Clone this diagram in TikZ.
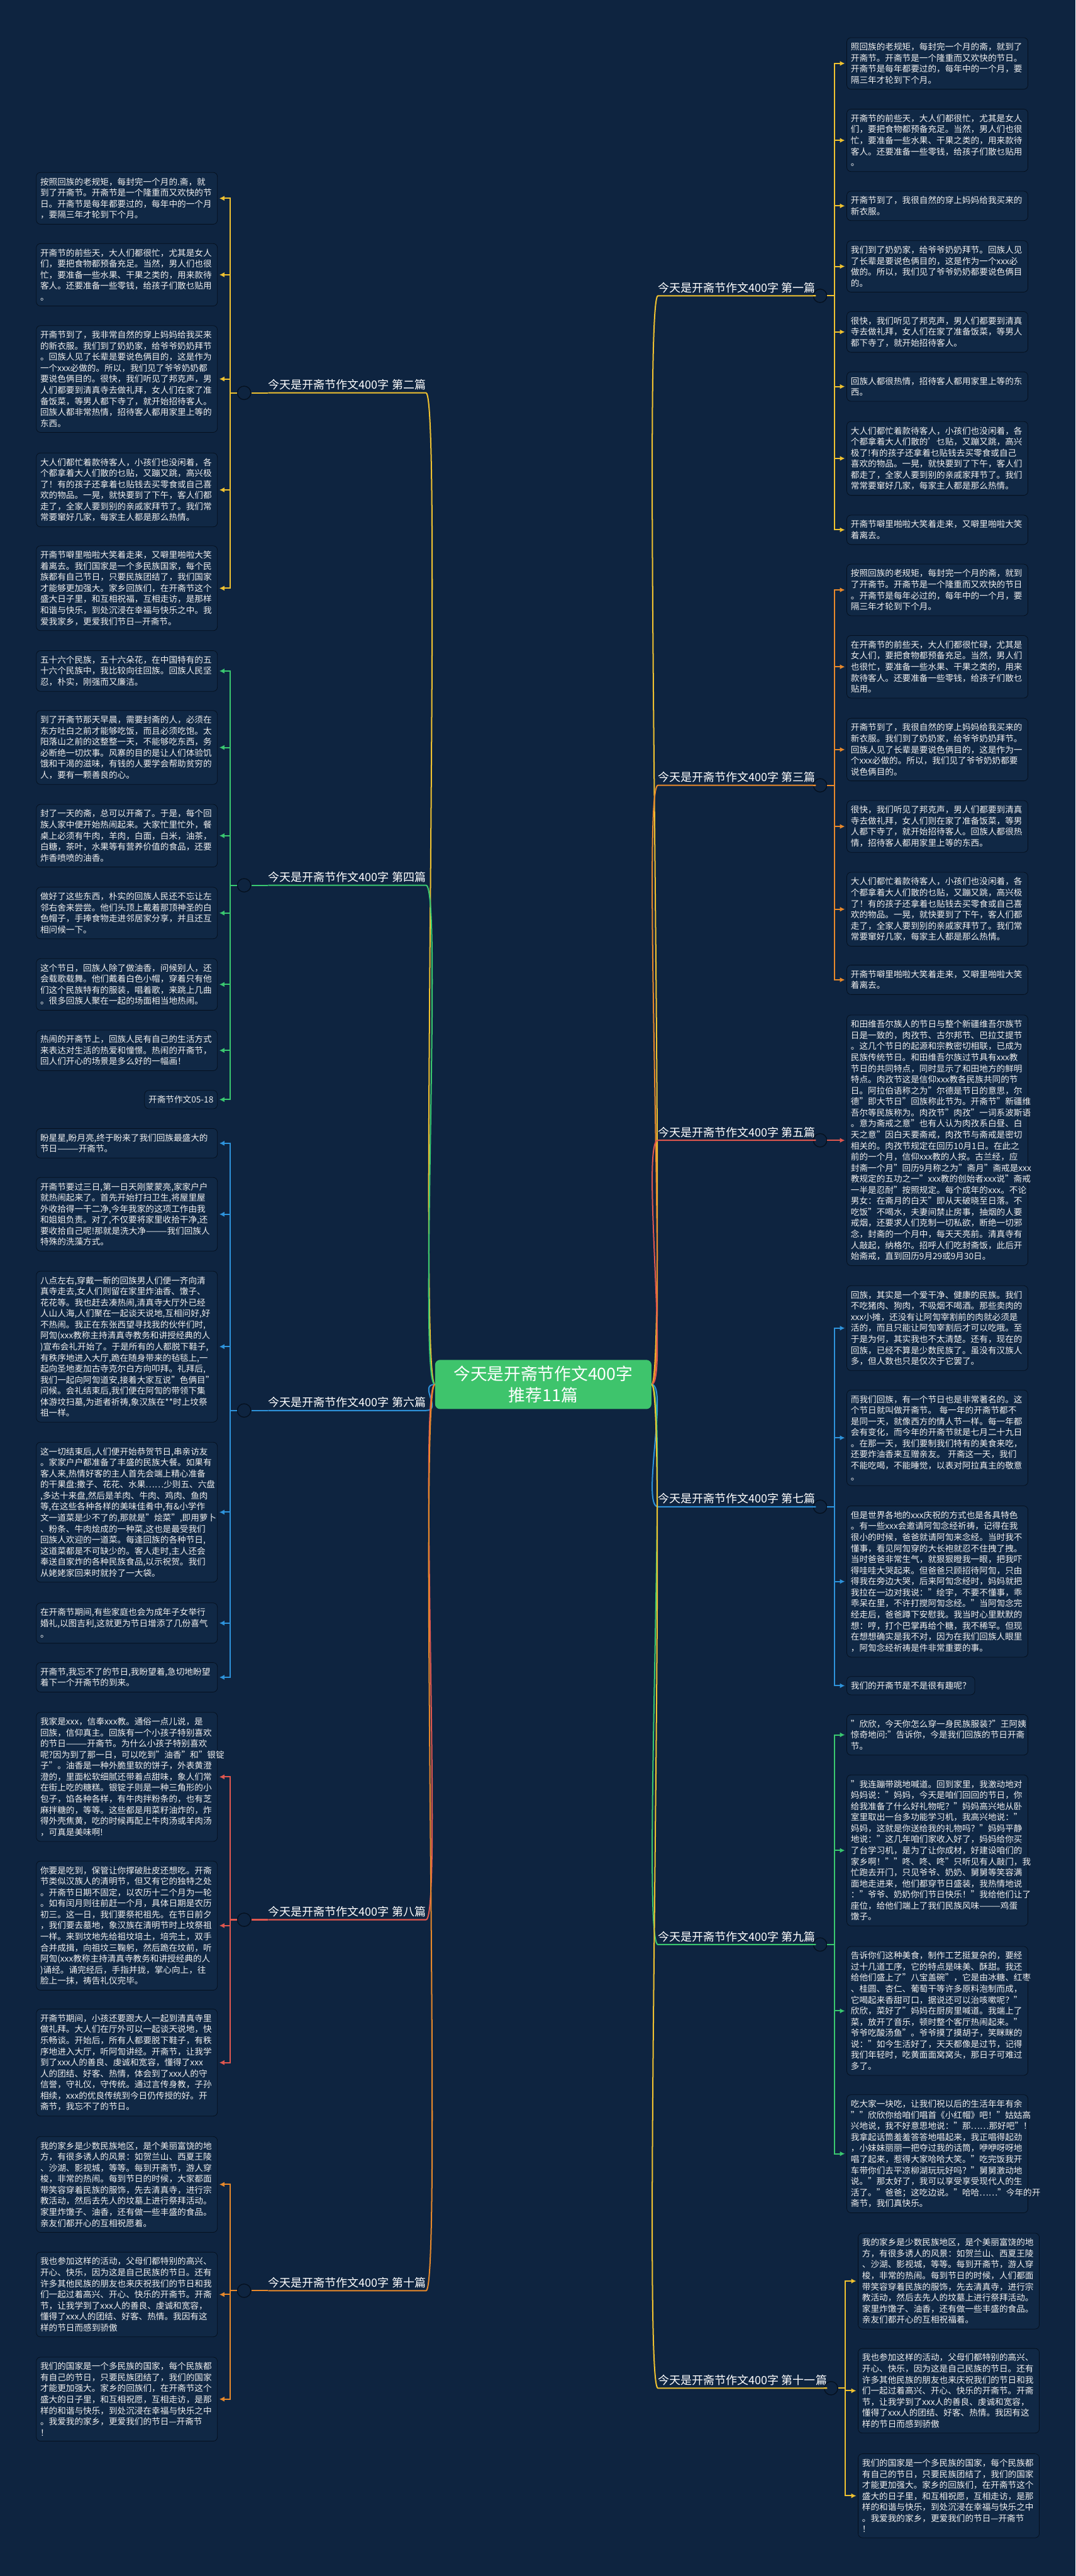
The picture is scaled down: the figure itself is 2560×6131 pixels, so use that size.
\documentclass[tikz,border=0pt]{standalone}
\usepackage{fontspec}
\setmainfont{Noto Sans CJK SC}
\usetikzlibrary{arrows.meta}
\definecolor{bgc}{RGB}{14,36,64}
\definecolor{boxfill}{RGB}{16,40,69}
\definecolor{boxline}{RGB}{5,16,30}
\definecolor{cyel}{RGB}{240,194,48}
\definecolor{cora}{RGB}{232,137,43}
\definecolor{cgre}{RGB}{58,200,112}
\definecolor{cred}{RGB}{224,87,79}
\definecolor{cblu}{RGB}{46,147,219}
\definecolor{ctrgreen}{RGB}{62,196,108}
\begin{document}
\begin{tikzpicture}[x=0.5pt,y=-0.5pt,
  box/.style={draw=boxline, fill=boxfill, line width=0.6pt, rounded corners=5pt,
    text=white!94!black, font=\fontsize{10.2}{13.15}\selectfont, align=left,
    inner xsep=4.75pt, inner ysep=6.2pt},
  leaf/.style={box, text width=206pt},
  lab/.style={text=white, font=\fontsize{13.5}{16}\selectfont, inner xsep=0pt, inner ysep=3pt},
  knob/.style={circle, draw=boxline, fill=bgc, line width=1pt, minimum size=16pt, inner sep=0pt},
  wire/.style={draw=#1, line width=1.5pt},
  arr/.style={draw=#1, line width=1.5pt, -{Latex[length=6pt,width=6pt]}, shorten >=2pt}]

\fill[bgc] (0,0) rectangle (2560,6131);
\useasboundingbox (0,0) rectangle (2560,6131);

\node (ctr) at (1293,3295) [fill=ctrgreen, rounded corners=6pt, text=white,
  font=\fontsize{20}{26}\selectfont, align=center, minimum width=257.5pt,
  minimum height=58.5pt] {今天是开斋节作文400字\\推荐11篇};

% left side: leaves
\node (L2a) at (518,472) [leaf, anchor=east] {按照回族的老规矩，每封完一个月的.斋，就\\到了开斋节。开斋节是一个隆重而又欢快的节\\日。开斋节是每年都要过的，每年中的一个月\\，要隔三年才轮到下个月。};
\node (L2b) at (518,654) [leaf, anchor=east] {开斋节的前些天，大人们都很忙，尤其是女人\\们，要把食物都预备充足。当然，男人们也很\\忙，要准备一些水果、干果之类的，用来款待\\客人。还要准备一些零钱，给孩子们散乜贴用\\。};
\node (L2c) at (518,902) [leaf, anchor=east] {开斋节到了，我非常自然的穿上妈妈给我买来\\的新衣服。我们到了奶奶家，给爷爷奶奶拜节\\。回族人见了长辈是要说色俩目的，这是作为\\一个xxx必做的。所以，我们见了爷爷奶奶都\\要说色俩目的。很快，我们听见了邦克声，男\\人们都要到清真寺去做礼拜，女人们在家了准\\备饭菜，等男人都下寺了，就开始招待客人。\\回族人都非常热情，招待客人都用家里上等的\\东西。};
\node (L2d) at (518,1166) [leaf, anchor=east] {大人们都忙着款待客人，小孩们也没闲着，各\\个都拿着大人们散的乜贴，又蹦又跳，高兴极\\了！有的孩子还拿着乜贴钱去买零食或自己喜\\欢的物品。一晃，就快要到了下午，客人们都\\走了，全家人要到别的亲戚家拜节了。我们常\\常要窜好几家，每家主人都是那么热情。};
\node (L2e) at (518,1400) [leaf, anchor=east] {开斋节噼里啪啦大笑着走来，又噼里啪啦大笑\\着离去。我们国家是一个多民族国家，每个民\\族都有自己节日，只要民族团结了，我们国家\\才能够更加强大。家乡回族们，在开斋节这个\\盛大日子里，和互相祝福，互相走访，是那样\\和谐与快乐，到处沉浸在幸福与快乐之中。我\\爱我家乡，更爱我们节日—开斋节。};

\node (L4a) at (518,1597) [leaf, anchor=east] {五十六个民族，五十六朵花，在中国特有的五\\十六个民族中，我比较向往回族。回族人民坚\\忍，朴实，刚强而又廉洁。};
\node (L4b) at (518,1779) [leaf, anchor=east] {到了开斋节那天早晨，需要封斋的人，必须在\\东方吐白之前才能够吃饭，而且必须吃饱。太\\阳落山之前的这整整一天，不能够吃东西，务\\必断绝一切炊事。风寨的目的是让人们体验饥\\饿和干渴的滋味，有钱的人要学会帮助贫穷的\\人，要有一颗善良的心。};
\node (L4c) at (518,1989) [leaf, anchor=east] {封了一天的斋，总可以开斋了。于是，每个回\\族人家中便开始热闹起来。大家忙里忙外，餐\\桌上必须有牛肉，羊肉，白面，白米，油茶，\\白糖，茶叶，水果等有营养价值的食品，还要\\炸香喷喷的油香。};
\node (L4d) at (518,2173) [leaf, anchor=east] {做好了这些东西，朴实的回族人民还不忘让左\\邻右舍来尝尝。他们头顶上戴着那顶神圣的白\\色帽子，手捧食物走进邻居家分享，并且还互\\相问候一下。};
\node (L4e) at (518,2343) [leaf, anchor=east] {这个节日，回族人除了做油香，问候别人，还\\会载歌载舞。他们戴着白色小帽，穿着只有他\\们这个民族特有的服装，唱着歌，来跳上几曲\\。很多回族人聚在一起的场面相当地热闹。};
\node (L4f) at (518,2500) [leaf, anchor=east] {热闹的开斋节上，回族人民有自己的生活方式\\来表达对生活的热爱和憧憬。热闹的开斋节，\\回人们开心的场景是多么好的一幅画！};
\node (L4g) at (518,2617) [box, anchor=east] {开斋节作文05-18};

\node (L6a) at (518,2721) [leaf, anchor=east] {盼星星,盼月亮,终于盼来了我们回族最盛大的\\节日———开斋节。};
\node (L6b) at (518,2890) [leaf, anchor=east] {开斋节要过三日,第一日天刚蒙蒙亮,家家户户\\就热闹起来了。首先开始打扫卫生,将屋里屋\\外收拾得一干二净,今年我家的这项工作由我\\和姐姐负责。对了,不仅要将家里收拾干净,还\\要收拾自己呢!那就是洗大净———我们回族人\\特殊的洗藻方式。};
\node (L6c) at (518,3205) [leaf, anchor=east] {八点左右,穿戴一新的回族男人们便一齐向清\\真寺走去,女人们则留在家里炸油香、馓子、\\花花等。我也赶去凑热闹,清真寺大厅外已经\\人山人海,人们聚在一起谈天说地,互相问好,好\\不热闹。我正在东张西望寻找我的伙伴们时,\\阿訇(xxx教称主持清真寺教务和讲授经典的人\\)宣布会礼开始了。于是所有的人都脱下鞋子,\\有秩序地进入大厅,跪在随身带来的毡毯上,一\\起向圣地麦加古寺克尔白方向叩拜。礼拜后,\\我们一起向阿訇道安,接着大家互说"色俩目"\\问候。会礼结束后,我们便在阿訇的带领下集\\体游坟扫墓,为逝者祈祷,象汉族在**时上坟祭\\祖一样。};
\node (L6d) at (518,3599) [leaf, anchor=east] {这一切结束后,人们便开始恭贺节日,串亲访友\\。家家户户都准备了丰盛的民族大餐。如果有\\客人来,热情好客的主人首先会端上精心准备\\的干果盘:撒子、花花、水果……少则五、六盘\\,多达十来盘,然后是羊肉、牛肉、鸡肉、鱼肉\\等,在这些各种各样的美味佳肴中,有\&小学作\\文一道菜是少不了的,那就是"烩菜",即用萝卜\\、粉条、牛肉烩成的一种菜,这也是最受我们\\回族人欢迎的一道菜。每逢回族的各种节日,\\这道菜都是不可缺少的。客人走时,主人还会\\奉送自家炸的各种民族食品,以示祝贺。我们\\从姥姥家回来时就拎了一大袋。};
\node (L6e) at (518,3863) [leaf, anchor=east] {在开斋节期间,有些家庭也会为成年子女举行\\婚礼,以图吉利,这就更为节日增添了几份喜气\\。};
\node (L6f) at (518,3992) [leaf, anchor=east] {开斋节,我忘不了的节日,我盼望着,急切地盼望\\着下一个开斋节的到来。};

\node (L8a) at (518,4229) [leaf, anchor=east] {我家是xxx，信奉xxx教。通俗一点儿说，是\\回族，信仰真主。回族有一个小孩子特别喜欢\\的节日———开斋节。为什么小孩子特别喜欢\\呢?因为到了那一日，可以吃到"油香"和"银锭\\子"。油香是一种外脆里软的饼子，外表黄澄\\澄的，里面松软细腻还带着点甜味，象人们常\\在街上吃的糖糕。银锭子则是一种三角形的小\\包子，馅各种各样，有牛肉拌粉条的，也有芝\\麻拌糖的，等等。这些都是用菜籽油炸的，炸\\得外壳焦黄，吃的时候再配上牛肉汤或羊肉汤\\，可真是美味啊!};
\node (L8b) at (518,4583) [leaf, anchor=east] {你要是吃到，保管让你撑破肚皮还想吃。开斋\\节类似汉族人的清明节，但又有它的独特之处\\。开斋节日期不固定，以农历十二个月为一轮\\。如有闰月则往前赶一个月，具体日期是农历\\初三。这一日，我们要祭祀祖先。在节日前夕\\，我们要去墓地，象汉族在清明节时上坟祭祖\\一样。来到坟地先给祖坟培土，培完土，双手\\合并成揖，向祖坟三鞠躬，然后跪在坟前，听\\阿訇(xxx教称主持清真寺教务和讲授经典的人\\)诵经。诵完经后，手指并拢，掌心向上，往\\脸上一抹，祷告礼仪完毕。};
\node (L8c) at (518,4909) [leaf, anchor=east] {开斋节期间，小孩还要跟大人一起到清真寺里\\做礼拜。大人们在厅外可以一起谈天说地，快\\乐畅谈。开始后，所有人都要脱下鞋子，有秩\\序地进入大厅，听阿訇讲经。开斋节，让我学\\到了xxx人的善良、虔诚和宽容，懂得了xxx\\人的团结、好客、热情，体会到了xxx人的守\\信誉，守礼仪，守传统。通过言传身教，子孙\\相续，xxx的优良传统到今日仍传授的好。开\\斋节，我忘不了的节日。};

\node (L10a) at (518,5199) [leaf, anchor=east] {我的家乡是少数民族地区，是个美丽富饶的地\\方，有很多诱人的风景：如贺兰山、西夏王陵\\、沙湖、影视城，等等。每到开斋节，游人穿\\梭，非常的热闹。每到节日的时候，大家都面\\带笑容穿着民族的服饰，先去清真寺，进行宗\\教活动，然后去先人的坟墓上进行祭拜活动。\\家里炸馓子、油香，还有做一些丰盛的食品。\\亲友们都开心的互相祝愿着。};
\node (L10b) at (518,5461) [leaf, anchor=east] {我也参加这样的活动，父母们都特别的高兴、\\开心、快乐，因为这是自己民族的节日。还有\\许多其他民族的朋友也来庆祝我们的节日和我\\们一起过着高兴、开心、快乐的开斋节。开斋\\节，让我学到了xxx人的善良、虔诚和宽容，\\懂得了xxx人的团结、好客、热情。我因有这\\样的节日而感到骄傲};
\node (L10c) at (518,5710) [leaf, anchor=east] {我们的国家是一个多民族的国家，每个民族都\\有自己的节日，只要民族团结了，我们的国家\\才能更加强大。家乡的回族们，在开斋节这个\\盛大的日子里，和互相祝愿，互相走访，是那\\样的和谐与快乐，到处沉浸在幸福与快乐之中\\。我爱我的家乡，更爱我们的节日—开斋节\\！};

% right side: leaves
\node (R1a) at (2015,151) [leaf, anchor=west] {照回族的老规矩，每封完一个月的斋，就到了\\开斋节。开斋节是一个隆重而又欢快的节日。\\开斋节是每年都要过的，每年中的一个月，要\\隔三年才轮到下个月。};
\node (R1b) at (2015,334) [leaf, anchor=west] {开斋节的前些天，大人们都很忙，尤其是女人\\们，要把食物都预备充足。当然，男人们也很\\忙，要准备一些水果、干果之类的，用来款待\\客人。还要准备一些零钱，给孩子们散乜贴用\\。};
\node (R1c) at (2015,490) [leaf, anchor=west] {开斋节到了，我很自然的穿上妈妈给我买来的\\新衣服。};
\node (R1d) at (2015,634) [leaf, anchor=west] {我们到了奶奶家，给爷爷奶奶拜节。回族人见\\了长辈是要说色俩目的，这是作为一个xxx必\\做的。所以，我们见了爷爷奶奶都要说色俩目\\的。};
\node (R1e) at (2015,790) [leaf, anchor=west] {很快，我们听见了邦克声，男人们都要到清真\\寺去做礼拜，女人们在家了准备饭菜，等男人\\都下寺了，就开始招待客人。};
\node (R1f) at (2015,920) [leaf, anchor=west] {回族人都很热情，招待客人都用家里上等的东\\西。};
\node (R1g) at (2015,1091) [leaf, anchor=west] {大人们都忙着款待客人，小孩们也没闲着，各\\个都拿着大人们散的'乜贴，又蹦又跳，高兴\\极了!有的孩子还拿着乜贴钱去买零食或自己\\喜欢的物品。一晃，就快要到了下午，客人们\\都走了，全家人要到别的亲戚家拜节了。我们\\常常要窜好几家，每家主人都是那么热情。};
\node (R1h) at (2015,1261) [leaf, anchor=west] {开斋节噼里啪啦大笑着走来，又噼里啪啦大笑\\着离去。};

\node (R3a) at (2015,1404) [leaf, anchor=west] {按照回族的老规矩，每封完一个月的斋，就到\\了开斋节。开斋节是一个隆重而又欢快的节日\\。开斋节是每年必过的，每年中的一个月，要\\隔三年才轮到下个月。};
\node (R3b) at (2015,1587) [leaf, anchor=west] {在开斋节的前些天，大人们都很忙碌，尤其是\\女人们，要把食物都预备充足。当然，男人们\\也很忙，要准备一些水果、干果之类的，用来\\款待客人。还要准备一些零钱，给孩子们散乜\\贴用。};
\node (R3c) at (2015,1784) [leaf, anchor=west] {开斋节到了，我很自然的穿上妈妈给我买来的\\新衣服。我们到了奶奶家，给爷爷奶奶拜节。\\回族人见了长辈是要说色俩目的，这是作为一\\个xxx必做的。所以，我们见了爷爷奶奶都要\\说色俩目的。};
\node (R3d) at (2015,1967) [leaf, anchor=west] {很快，我们听见了邦克声，男人们都要到清真\\寺去做礼拜，女人们则在家了准备饭菜，等男\\人都下寺了，就开始招待客人。回族人都很热\\情，招待客人都用家里上等的东西。};
\node (R3e) at (2015,2164) [leaf, anchor=west] {大人们都忙着款待客人，小孩们也没闲着，各\\个都拿着大人们散的乜贴，又蹦又跳，高兴极\\了！有的孩子还拿着乜贴钱去买零食或自己喜\\欢的物品。一晃，就快要到了下午，客人们都\\走了，全家人要到别的亲戚家拜节了。我们常\\常要窜好几家，每家主人都是那么热情。};
\node (R3f) at (2015,2332) [leaf, anchor=west] {开斋节噼里啪啦大笑着走来，又噼里啪啦大笑\\着离去。};

\node (R5a) at (2015,2714) [leaf, anchor=west] {和田维吾尔族人的节日与整个新疆维吾尔族节\\日是一致的，肉孜节、古尔邦节、巴拉艾提节\\。这几个节日的起源和宗教密切相联，已成为\\民族传统节日。和田维吾尔族过节具有xxx教\\节日的共同特点，同时显示了和田地方的鲜明\\特点。肉孜节这是信仰xxx教各民族共同的节\\日。阿拉伯语称之为"尔德是节日的意思，尔\\德"即大节日"回族称此节为。开斋节"新疆维\\吾尔等民族称为。肉孜节"肉孜"一词系波斯语\\。意为斋戒之意"也有人认为肉孜系白昼、白\\天之意"因白天要斋戒，肉孜节与斋戒是密切\\相关的。肉孜节规定在回历10月1日。在此之\\前的一个月，信仰xxx教的人按。古兰经，应\\封斋一个月"回历9月称之为"斋月"斋戒是xxx\\教规定的五功之一"xxx教的创始者xxx说"斋戒\\一半是忍耐"按照规定。每个成年的xxx。不论\\男女：在斋月的白天"即从天破晓至日落。不\\吃饭"不喝水，夫妻间禁止房事，抽烟的人要\\戒烟，还要求人们克制一切私欲，断绝一切邪\\念，封斋的一个月中，每天天亮前。清真寺有\\人敲起，纳格尔。招呼人们吃封斋饭，此后开\\始斋戒，直到回历9月29或9月30日。};

\node (R7a) at (2015,3161) [leaf, anchor=west] {回族，其实是一个爱干净、健康的民族。我们\\不吃猪肉、狗肉，不吸烟不喝酒。那些卖肉的\\xxx小摊，还没有让阿訇宰割前的肉就必须是\\活的，而且只能让阿訇宰割后才可以吃哦。至\\于是为何，其实我也不太清楚。还有，现在的\\回族，已经不算是少数民族了。虽没有汉族人\\多，但人数也只是仅次于它罢了。};
\node (R7b) at (2015,3422) [leaf, anchor=west] {而我们回族，有一个节日也是非常著名的。这\\个节日就叫做开斋节。 每一年的开斋节都不\\是同一天，就像西方的情人节一样。每一年都\\会有变化，而今年的开斋节就是七月二十九日\\。在那一天，我们要制我们特有的美食来吃，\\还要炸油香来互赠亲友。 开斋这一天，我们\\不能吃喝，不能睡觉，以表对阿拉真主的敬意\\。};
\node (R7c) at (2015,3764) [leaf, anchor=west] {但是世界各地的xxx庆祝的方式也是各具特色\\。有一些xxx会邀请阿訇念经祈祷，记得在我\\很小的时候，爸爸就请阿訇来念经。当时我不\\懂事，看见阿訇穿的大长袍就忍不住拽了拽。\\当时爸爸非常生气，就狠狠瞪我一眼，把我吓\\得哇哇大哭起来。但爸爸只顾招待阿訇，只由\\得我在旁边大哭，后来阿訇念经时，妈妈就把\\我拉在一边对我说："绘宇，不要不懂事，乖\\乖呆在里，不许打搅阿訇念经。"当阿訇念完\\经走后，爸爸蹲下安慰我。我当时心里默默的\\想：哼，打个巴掌再给个糖，我不稀罕。但现\\在想想确实是我不对，因为在我们回族人眼里\\，阿訇念经祈祷是件非常重要的事。};
\node (R7d) at (2015,4012) [box, anchor=west] {我们的开斋节是不是很有趣呢？};

\node (R9a) at (2015,4129) [leaf, anchor=west] {"欣欣，今天你怎么穿一身民族服装?"王阿姨\\惊奇地问:"告诉你，今是我们回族的节日开斋\\节。};
\node (R9b) at (2015,4404) [leaf, anchor=west] {"我连蹦带跳地喊道。回到家里，我激动地对\\妈妈说："妈妈，今天是咱们回回的节日，你\\给我准备了什么好礼物呢？"妈妈高兴地从卧\\室里取出一台多功能学习机，我高兴地说："\\妈妈，这就是你送给我的礼物吗？"妈妈平静\\地说："这几年咱们家收入好了，妈妈给你买\\了台学习机，是为了让你成材，好建设咱们的\\家乡啊！""咚、咚、咚"只听见有人敲门，我\\忙跑去开门，只见爷爷、奶奶、舅舅等笑容满\\面地走进来，他们都穿节日盛装，我热情地说\\："爷爷、奶奶你们节日快乐！"我给他们让了\\座位，给他们端上了我们民族风味———鸡蛋\\馓子。};
\node (R9c) at (2015,4786) [leaf, anchor=west] {告诉你们这种美食，制作工艺挺复杂的，要经\\过十几道工序，它的特点是味美、酥甜。我还\\给他们盛上了"八宝盖碗"，它是由冰糖、红枣\\、桂圆、杏仁、葡萄干等许多原料泡制而成，\\它喝起来香甜可口，据说还可以治咳嗽呢？"\\欣欣，菜好了"妈妈在厨房里喊道。我端上了\\菜，放开了音乐，顿时整个客厅热闹起来。"\\爷爷吃酸汤鱼"。爷爷摸了摸胡子，笑眯眯的\\说："如今生活好了，天天都像是过节，记得\\我们年轻时，吃黄面面窝窝头，那日子可难过\\多了。};
\node (R9d) at (2015,5126) [leaf, anchor=west] {吃大家一块吃，让我们祝以后的生活年年有余\\""欣欣你给咱们唱首《小红帽》吧！"姑姑高\\兴地说，我不好意思地说："那……那好吧"！\\我拿起话筒羞羞答答地唱起来，我正唱得起劲\\，小妹妹丽丽一把夺过我的话筒，咿咿呀呀地\\唱了起来，惹得大家哈哈大笑。"吃完饭我开\\车带你们去平凉柳湖玩玩好吗？"舅舅激动地\\说。"那太好了，我可以享受享受现代人的生\\活了。"爸爸；这吃边说。"哈哈……"今年的开\\斋节，我们真快乐。};

\node (R11a) at (2042,5429) [leaf, anchor=west] {我的家乡是少数民族地区，是个美丽富饶的地\\方，有很多诱人的风景：如贺兰山、西夏王陵\\、沙湖、影视城，等等。每到开斋节，游人穿\\梭，非常的热闹。每到节日的时候，人们都面\\带笑容穿着民族的服饰，先去清真寺，进行宗\\教活动，然后去先人的坟墓上进行祭拜活动。\\家里炸馓子、油香，还有做一些丰盛的食品。\\亲友们都开心的互相祝福着。};
\node (R11b) at (2042,5690) [leaf, anchor=west] {我也参加这样的活动，父母们都特别的高兴、\\开心、快乐，因为这是自己民族的节日。还有\\许多其他民族的朋友也来庆祝我们的节日和我\\们一起过着高兴、开心、快乐的开斋节。开斋\\节，让我学到了xxx人的善良、虔诚和宽容，\\懂得了xxx人的团结、好客、热情。我因有这\\样的节日而感到骄傲};
\node (R11c) at (2042,5940) [leaf, anchor=west] {我们的国家是一个多民族的国家，每个民族都\\有自己的节日，只要民族团结了，我们的国家\\才能更加强大。家乡的回族们，在开斋节这个\\盛大的日子里，和互相祝愿，互相走访，是那\\样的和谐与快乐，到处沉浸在幸福与快乐之中\\。我爱我的家乡，更爱我们的节日—开斋节\\！};

% branch titles
\node (t2) at (1014,935) [lab, anchor=south east] {今天是开斋节作文400字 第二篇};
\node (t4) at (1014,2107) [lab, anchor=south east] {今天是开斋节作文400字 第四篇};
\node (t6) at (1014,3357) [lab, anchor=south east] {今天是开斋节作文400字 第六篇};
\node (t8) at (1014,4569) [lab, anchor=south east] {今天是开斋节作文400字 第八篇};
\node (t10) at (1014,5452) [lab, anchor=south east] {今天是开斋节作文400字 第十篇};
\node (t1) at (1566,704) [lab, anchor=south west] {今天是开斋节作文400字 第一篇};
\node (t3) at (1566,1869) [lab, anchor=south west] {今天是开斋节作文400字 第三篇};
\node (t5) at (1566,2714) [lab, anchor=south west] {今天是开斋节作文400字 第五篇};
\node (t7) at (1566,3586) [lab, anchor=south west] {今天是开斋节作文400字 第七篇};
\node (t9) at (1566,4628) [lab, anchor=south west] {今天是开斋节作文400字 第九篇};
\node (t11) at (1566,5684) [lab, anchor=south west] {今天是开斋节作文400字 第十一篇};

% knobs
\node (k2) at (581,935) [knob] {};
\node (k4) at (581,2107) [knob] {};
\node (k6) at (581,3357) [knob] {};
\node (k8) at (581,4569) [knob] {};
\node (k10) at (581,5452) [knob] {};
\node (k1) at (1952,704) [knob] {};
\node (k3) at (1952,1869) [knob] {};
\node (k5) at (1952,2714) [knob] {};
\node (k7) at (1952,3586) [knob] {};
\node (k9) at (1952,4628) [knob] {};
\node (k11) at (1978,5684) [knob] {};

% center to titles
\foreach \t/\c in {t2/cyel,t4/cgre,t6/cblu,t8/cred,t10/cora} {
  \draw[wire=\c] (ctr.west) .. controls +(-40,0) and +(40,0) .. (\t.south east) -- (\t.south west);
}
\foreach \t/\c in {t1/cyel,t3/cora,t5/cred,t7/cblu,t9/cgre,t11/cyel} {
  \draw[wire=\c] (ctr.east) .. controls +(40,0) and +(-40,0) .. (\t.south west) -- (\t.south east);
}
\foreach \t/\k/\c in {t2/k2/cyel,t4/k4/cgre,t6/k6/cblu,t8/k8/cred,t10/k10/cora}
  \draw[wire=\c] (\t.south west) -- (\k.east);
\foreach \t/\k/\c in {t1/k1/cyel,t3/k3/cora,t5/k5/cred,t7/k7/cblu,t9/k9/cgre,t11/k11/cyel}
  \draw[wire=\c] (\t.south east) -- (\k.west);

% knobs to leaves
\foreach \n in {L2a,L2b,L2c,L2d,L2e} \draw[arr=cyel] (k2.west) -- ++(-16,0) |- (\n.east);
\foreach \n in {L4a,L4b,L4c,L4d,L4e,L4f,L4g} \draw[arr=cgre] (k4.west) -- ++(-16,0) |- (\n.east);
\foreach \n in {L6a,L6b,L6c,L6d,L6e,L6f} \draw[arr=cblu] (k6.west) -- ++(-16,0) |- (\n.east);
\foreach \n in {L8a,L8b,L8c} \draw[arr=cred] (k8.west) -- ++(-16,0) |- (\n.east);
\foreach \n in {L10a,L10b,L10c} \draw[arr=cora] (k10.west) -- ++(-16,0) |- (\n.east);
\foreach \n in {R1a,R1b,R1c,R1d,R1e,R1f,R1g,R1h} \draw[arr=cyel] (k1.east) -- ++(17,0) |- (\n.west);
\foreach \n in {R3a,R3b,R3c,R3d,R3e,R3f} \draw[arr=cora] (k3.east) -- ++(17,0) |- (\n.west);
\draw[arr=cred] (k5.east) -- (R5a.west);
\foreach \n in {R7a,R7b,R7c,R7d} \draw[arr=cblu] (k7.east) -- ++(17,0) |- (\n.west);
\foreach \n in {R9a,R9b,R9c,R9d} \draw[arr=cgre] (k9.east) -- ++(17,0) |- (\n.west);
\foreach \n in {R11a,R11b,R11c} \draw[arr=cyel] (k11.east) -- ++(17,0) |- (\n.west);

\end{tikzpicture}
\end{document}
